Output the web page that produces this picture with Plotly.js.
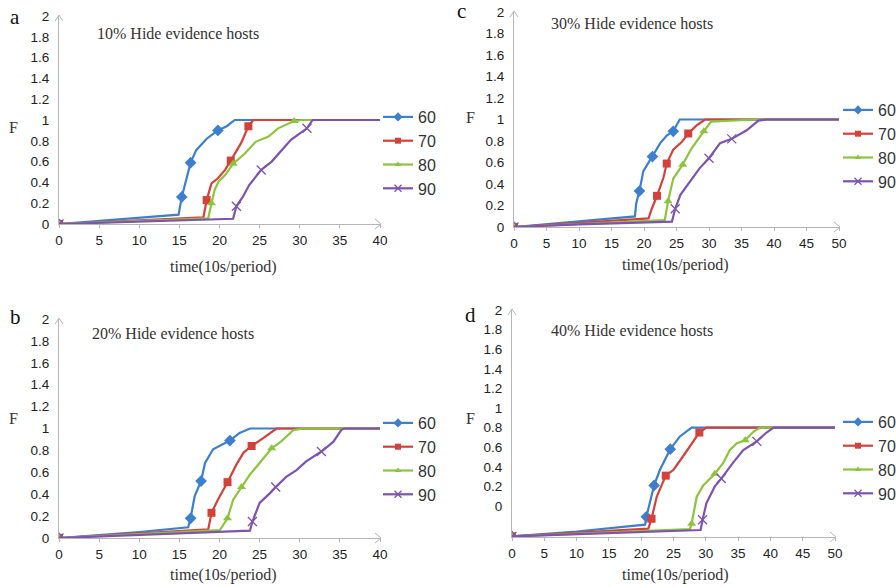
<!DOCTYPE html>
<html>
<head>
<meta charset="utf-8">
<script src="https://cdn.plot.ly/plotly-3.0.1.min.js"></script>
<style>
  html, body { margin: 0; padding: 0; background: #ffffff; }
  #chart { width: 896px; height: 587px; }
</style>
</head>
<body>
<div id="chart"></div>
<script>
// ---------------- DATA ----------------
const seriesNames = ['60', '70', '80', '90'];
const panelTitles = ['10% Hide evidence hosts', '30% Hide evidence hosts', '20% Hide evidence hosts', '40% Hide evidence hosts'];
const panelLetters = ['a', 'c', 'b', 'd'];
const xTitle = 'time(10s/period)';
const yTitle = 'F';
const yTickVals = [0, 0.2, 0.4, 0.6, 0.8, 1, 1.2, 1.4, 1.6, 1.8, 2];

// Panel a (10%)
const a60_t = [0, 5, 10, 14.9, 15.3, 16.4, 17.1, 18.4, 19.8, 20.9, 21.9, 40];
const a60_F = [0, 0.03, 0.06, 0.09, 0.26, 0.59, 0.71, 0.82, 0.90, 0.94, 1.0, 1.0];
const a60_mk = [0, 4, 5, 8];
const a70_t = [0, 10, 18.0, 18.4, 19.0, 19.8, 20.7, 21.4, 22.1, 22.7, 23.6, 24.2, 40];
const a70_F = [0, 0.035, 0.065, 0.23, 0.39, 0.44, 0.52, 0.61, 0.70, 0.78, 0.94, 1.0, 1.0];
const a70_mk = [0, 3, 7, 10];
const a80_t = [0, 10, 18.6, 19.0, 19.4, 19.9, 20.7, 21.7, 23.2, 24.5, 26.1, 27.3, 29.3, 30.3, 40];
const a80_F = [0, 0.03, 0.055, 0.2, 0.33, 0.41, 0.47, 0.58, 0.68, 0.79, 0.84, 0.92, 0.99, 1.0, 1.0];
const a80_mk = [0, 3, 7, 12];
const a90_t = [0, 10, 21.7, 22.1, 22.9, 23.7, 24.5, 25.2, 26.5, 27.8, 28.9, 30.9, 31.6, 40];
const a90_F = [0, 0.025, 0.05, 0.17, 0.26, 0.375, 0.45, 0.52, 0.60, 0.71, 0.81, 0.92, 1.0, 1.0];
const a90_mk = [0, 3, 7, 11];

// Panel c (30%)
const c60_t = [0, 10, 18.6, 18.8, 19.3, 19.9, 21.3, 22.5, 23.5, 24.5, 25.5, 50];
const c60_F = [0, 0.05, 0.098, 0.22, 0.335, 0.52, 0.655, 0.78, 0.85, 0.89, 1.0, 1.0];
const c60_mk = [0, 4, 6, 9];
const c70_t = [0, 10, 20.7, 21.2, 22.0, 23.0, 23.5, 24.5, 25.8, 26.8, 28.1, 29.4, 50];
const c70_F = [0, 0.04, 0.08, 0.17, 0.29, 0.46, 0.59, 0.72, 0.79, 0.87, 0.945, 1.0, 1.0];
const c70_mk = [0, 4, 6, 9];
const c80_t = [0, 10, 23.2, 23.7, 24.5, 25.95, 27.3, 29.2, 30.3, 37, 50];
const c80_F = [0, 0.03, 0.065, 0.24, 0.45, 0.58, 0.73, 0.89, 0.98, 1.0, 1.0];
const c80_mk = [0, 3, 5, 7];
const c90_t = [0, 10, 24.3, 24.8, 25.6, 27.1, 28.6, 30.0, 31.7, 33.5, 35.8, 37.6, 38.9, 50];
const c90_F = [0, 0.025, 0.05, 0.17, 0.30, 0.42, 0.55, 0.64, 0.78, 0.82, 0.90, 0.99, 1.0, 1.0];
const c90_mk = [0, 3, 7, 9];

// Panel b (20%)
const b60_t = [0, 10, 16.1, 16.4, 16.9, 17.7, 18.2, 19.2, 21.3, 22.5, 23.8, 40];
const b60_F = [0, 0.055, 0.098, 0.18, 0.38, 0.52, 0.685, 0.81, 0.89, 0.96, 1.0, 1.0];
const b60_mk = [0, 3, 5, 8];
const b70_t = [0, 10, 18.6, 19.0, 19.8, 21.0, 22.1, 23.0, 24.0, 25.4, 27.1, 40];
const b70_F = [0, 0.04, 0.08, 0.23, 0.35, 0.51, 0.67, 0.78, 0.84, 0.91, 1.0, 1.0];
const b70_mk = [0, 3, 5, 8];
const b80_t = [0, 10, 20.05, 21.0, 21.7, 22.75, 23.8, 25.0, 26.5, 27.5, 29.2, 30.4, 40];
const b80_F = [0, 0.035, 0.073, 0.18, 0.35, 0.465, 0.58, 0.685, 0.82, 0.87, 0.985, 1.0, 1.0];
const b80_mk = [0, 3, 5, 8];
const b90_t = [0, 10, 23.8, 24.1, 25.0, 26.3, 27.0, 28.35, 29.6, 30.8, 32.7, 34.2, 35.2, 35.6, 40];
const b90_F = [0, 0.03, 0.067, 0.15, 0.32, 0.41, 0.465, 0.56, 0.62, 0.70, 0.79, 0.88, 0.99, 1.0, 1.0];
const b90_mk = [0, 3, 6, 10];

// Panel d (40%) - values read against the printed tick labels
const d60_t = [0, 10, 20.6, 20.8, 22.0, 22.9, 24.5, 26.0, 27.8, 50];
const d60_F = [-0.31, -0.26, -0.19, -0.11, 0.21, 0.37, 0.58, 0.71, 0.80, 0.80];
const d60_mk = [0, 3, 4, 6];
const d70_t = [0, 10, 21.1, 21.6, 22.4, 23.8, 25.0, 26.3, 27.8, 29.0, 30.1, 50];
const d70_F = [-0.31, -0.27, -0.23, -0.13, 0.095, 0.31, 0.37, 0.49, 0.64, 0.75, 0.80, 0.80];
const d70_mk = [0, 3, 5, 9];
const d80_t = [0, 10, 27.55, 27.8, 28.6, 29.6, 31.4, 32.7, 33.7, 34.8, 36.1, 37.4, 38.4, 50];
const d80_F = [-0.31, -0.28, -0.235, -0.18, 0.095, 0.21, 0.33, 0.44, 0.57, 0.64, 0.67, 0.76, 0.80, 0.80];
const d80_mk = [0, 3, 6, 10];
const d90_t = [0, 10, 29.2, 29.5, 30.1, 31.4, 32.4, 34.2, 35.8, 37.9, 39.4, 40.5, 50];
const d90_F = [-0.31, -0.29, -0.245, -0.14, 0.03, 0.20, 0.28, 0.44, 0.57, 0.66, 0.75, 0.80, 0.80];
const d90_mk = [0, 3, 6, 9];

// ---------------- STYLE ----------------
const W = 896, H = 587;
const colors = ['#3c7fcf', '#d4413b', '#8cc43c', '#7d52b0'];
const symbols = ['diamond', 'square', 'triangle-up', 'x-thin'];
const msizes = [9, 8, 8, 9];
const SERIF = 'Liberation Serif, Times New Roman, serif';
const SANS = 'Liberation Sans, Arial, sans-serif';

// pixel boxes: [left, right, bottom, top]
const panels = [
  {data: [[a60_t, a60_F, a60_mk], [a70_t, a70_F, a70_mk], [a80_t, a80_F, a80_mk], [a90_t, a90_F, a90_mk]],
   box: [59, 380, 224, 16], xr: [0, 40], yr: [0, 2],
   letter: [15, 17], title: [178, 33], F: [13, 128], xt: [223, 267], leg: [378, 100]},
  {data: [[c60_t, c60_F, c60_mk], [c70_t, c70_F, c70_mk], [c80_t, c80_F, c80_mk], [c90_t, c90_F, c90_mk]],
   box: [514, 839, 227, 12], xr: [0, 50], yr: [0, 2],
   letter: [461, 11], title: [632, 23], F: [470, 118], xt: [675, 265], leg: [838, 93]},
  {data: [[b60_t, b60_F, b60_mk], [b70_t, b70_F, b70_mk], [b80_t, b80_F, b80_mk], [b90_t, b90_F, b90_mk]],
   box: [59, 380, 538, 319], xr: [0, 40], yr: [0, 2],
   letter: [15, 317], title: [173, 333], F: [13, 418], xt: [223, 575], leg: [378, 406]},
  {data: [[d60_t, d60_F, d60_mk], [d70_t, d70_F, d70_mk], [d80_t, d80_F, d80_mk], [d90_t, d90_F, d90_mk]],
   box: [512, 835, 537, 310], xr: [0, 50], yr: [-0.316, 2],
   letter: [470, 315], title: [632, 330], F: [470, 418], xt: [675, 575], leg: [838, 405]}
];

const px = v => v / W;
const py = v => 1 - v / H;

const traces = [];
const layout = {
  width: W, height: H,
  margin: {l: 0, r: 0, t: 0, b: 0, autoexpand: false},
  paper_bgcolor: '#ffffff', plot_bgcolor: '#ffffff',
  showlegend: true,
  annotations: [], shapes: []
};

panels.forEach((p, i) => {
  const n = i + 1;
  const xa = n === 1 ? 'x' : 'x' + n;
  const ya = n === 1 ? 'y' : 'y' + n;
  const legName = n === 1 ? 'legend' : 'legend' + n;

  layout[n === 1 ? 'xaxis' : 'xaxis' + n] = {
    domain: [px(p.box[0]), px(p.box[1])], anchor: ya,
    range: p.xr, tick0: 0, dtick: 5, fixedrange: true,
    showline: true, linecolor: '#b5b5b5', linewidth: 1,
    ticks: 'outside', ticklen: 3, tickcolor: '#b5b5b5',
    showgrid: false, zeroline: false,
    tickfont: {family: SANS, size: 13.5, color: '#222'},
    ticklabelstandoff: 1
  };
  layout[n === 1 ? 'yaxis' : 'yaxis' + n] = {
    domain: [py(p.box[2]), py(p.box[3])], anchor: xa,
    range: p.yr, tickmode: 'array', tickvals: yTickVals, fixedrange: true,
    showline: true, linecolor: '#b5b5b5', linewidth: 1,
    ticks: '', showgrid: false, zeroline: false,
    tickfont: {family: SANS, size: 13.5, color: '#222'},
    ticklabelstandoff: 6
  };
  layout[legName] = {
    x: px(p.leg[0]), y: py(p.leg[1]), xanchor: 'left', yanchor: 'top',
    bgcolor: 'rgba(0,0,0,0)', borderwidth: 0,
    font: {family: SANS, size: 16, color: '#333'},
    tracegroupgap: 0
  };

  p.data.forEach((s, k) => {
    const [t, F, mk] = s;
    const mk_style = {symbol: symbols[k], size: msizes[k], color: colors[k],
                      line: {color: colors[k], width: k === 3 ? 1.3 : 0}};
    traces.push({type: 'scatter', mode: 'lines', x: t, y: F, xaxis: xa, yaxis: ya,
                 line: {color: colors[k], width: 2.2}, showlegend: false, hoverinfo: 'skip'});
    traces.push({type: 'scatter', mode: 'markers', x: mk.map(j => t[j]), y: mk.map(j => F[j]),
                 xaxis: xa, yaxis: ya, marker: mk_style, showlegend: false, hoverinfo: 'skip'});
    traces.push({type: 'scatter', mode: 'lines+markers', x: [null], y: [null], xaxis: xa, yaxis: ya,
                 name: seriesNames[k], legend: legName,
                 line: {color: colors[k], width: 2.2}, marker: Object.assign({}, mk_style, {size: msizes[k] - 2})});
  });

  // text
  layout.annotations.push(
    {text: panelLetters[i], xref: 'paper', yref: 'paper', x: px(p.letter[0]), y: py(p.letter[1]),
     xanchor: 'center', yanchor: 'middle', showarrow: false, font: {family: SERIF, size: 21, color: '#111'}},
    {text: panelTitles[i], xref: 'paper', yref: 'paper', x: px(p.title[0]), y: py(p.title[1]),
     xanchor: 'center', yanchor: 'middle', showarrow: false, font: {family: SERIF, size: 16, color: '#333'}},
    {text: yTitle, xref: 'paper', yref: 'paper', x: px(p.F[0]), y: py(p.F[1]),
     xanchor: 'center', yanchor: 'middle', showarrow: false, font: {family: SERIF, size: 16, color: '#333'}},
    {text: xTitle, xref: 'paper', yref: 'paper', x: px(p.xt[0]), y: py(p.xt[1]),
     xanchor: 'center', yanchor: 'middle', showarrow: false, font: {family: SERIF, size: 16, color: '#333'}}
  );

  // axis arrow heads
  layout.shapes.push(
    {type: 'path', xref: xa + ' domain', yref: ya + ' domain', xsizemode: 'pixel', ysizemode: 'pixel',
     xanchor: 1, yanchor: 0, path: 'M-5,-5 L1,0 L-5,5', line: {color: '#b5b5b5', width: 1}},
    {type: 'path', xref: xa + ' domain', yref: ya + ' domain', xsizemode: 'pixel', ysizemode: 'pixel',
     xanchor: 0, yanchor: 1, path: 'M-4,-5 L0,1 L4,-5', line: {color: '#b5b5b5', width: 1}}
  );
});

Plotly.newPlot('chart', traces, layout, {staticPlot: true, displayModeBar: false});
</script>
</body>
</html>
